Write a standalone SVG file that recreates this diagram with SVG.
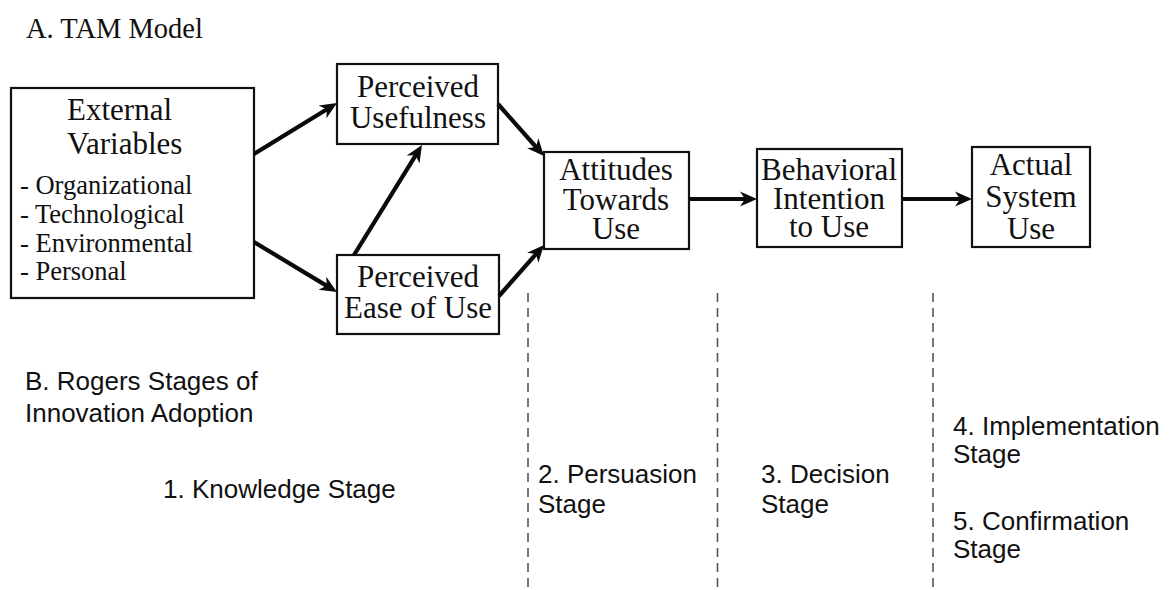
<svg xmlns="http://www.w3.org/2000/svg" width="1171" height="590" viewBox="0 0 1171 590">
  <style>
    .box { fill: #ffffff; stroke: #111111; stroke-width: 2.2; }
    .serif { font-family: "Liberation Serif", "Times New Roman", serif; fill: #111111; }
    .head { font-size: 31px; text-anchor: middle; }
    .item { font-size: 26.5px; }
    .sans { font-family: "Liberation Sans", Arial, sans-serif; font-size: 26px; fill: #111111; }
    .edge { stroke: #0a0a0a; stroke-width: 4.2; fill: none; marker-end: url(#head); }
    .divider { stroke: #555555; stroke-width: 1.6; stroke-dasharray: 9 6; }
  </style>
  <defs>
    <marker id="head" markerUnits="userSpaceOnUse" viewBox="-18 -8 18 16" markerWidth="18" markerHeight="16" refX="-8" refY="0" orient="auto">
      <path d="M0,0 L-17,-7.5 L-12,0 L-17,7.5 Z" fill="#0a0a0a"/>
    </marker>
  </defs>
  <rect width="1171" height="590" fill="#ffffff"/>

  <!-- Section titles -->
  <text class="serif" x="26" y="38" font-size="28.5">A. TAM Model</text>
  <text class="sans" x="25" y="390">B. Rogers Stages of</text>
  <text class="sans" x="25" y="422">Innovation Adoption</text>

  <!-- TAM nodes -->
  <g id="external-variables">
    <rect class="box" x="11" y="88" width="243" height="210"/>
    <text class="serif" x="67" y="120" font-size="31">External</text>
    <text class="serif" x="67" y="154" font-size="31">Variables</text>
    <text class="serif item" x="20" y="194">- Organizational</text>
    <text class="serif item" x="20" y="223">- Technological</text>
    <text class="serif item" x="20" y="252">- Environmental</text>
    <text class="serif item" x="20" y="280">- Personal</text>
  </g>
  <g id="perceived-usefulness">
    <rect class="box" x="337" y="64" width="161" height="80"/>
    <text class="serif head" x="418" y="97">Perceived</text>
    <text class="serif head" x="418" y="128">Usefulness</text>
  </g>
  <g id="perceived-ease-of-use">
    <rect class="box" x="337" y="255" width="162" height="79"/>
    <text class="serif head" x="418" y="287">Perceived</text>
    <text class="serif head" x="418" y="318">Ease of Use</text>
  </g>
  <g id="attitudes-towards-use">
    <rect class="box" x="544" y="152" width="145" height="97"/>
    <text class="serif head" x="616" y="180">Attitudes</text>
    <text class="serif head" x="616" y="210">Towards</text>
    <text class="serif head" x="616" y="239">Use</text>
  </g>
  <g id="behavioral-intention">
    <rect class="box" x="757" y="149" width="145" height="98"/>
    <text class="serif head" x="829" y="180">Behavioral</text>
    <text class="serif head" x="829" y="209">Intention</text>
    <text class="serif head" x="829" y="237">to Use</text>
  </g>
  <g id="actual-system-use">
    <rect class="box" x="972" y="147" width="118" height="100"/>
    <text class="serif head" x="1031" y="175">Actual</text>
    <text class="serif head" x="1031" y="207">System</text>
    <text class="serif head" x="1031" y="239">Use</text>
  </g>

  <!-- Connectors -->
  <g id="connectors">
    <line class="edge" x1="254" y1="154" x2="330.2" y2="107.2"/>
    <line class="edge" x1="254" y1="242" x2="330.1" y2="287.9"/>
    <line class="edge" x1="354" y1="255" x2="417.8" y2="151.8"/>
    <line class="edge" x1="498" y1="104" x2="538.7" y2="150"/>
    <line class="edge" x1="499" y1="296" x2="538.7" y2="251"/>
    <line class="edge" x1="689" y1="199" x2="749" y2="199"/>
    <line class="edge" x1="902" y1="199" x2="964" y2="199"/>
  </g>

  <!-- Stage dividers -->
  <g id="stage-dividers">
    <line class="divider" x1="528" y1="293" x2="528" y2="590"/>
    <line class="divider" x1="717.5" y1="293" x2="717.5" y2="590"/>
    <line class="divider" x1="933" y1="293" x2="933" y2="590"/>
  </g>

  <!-- Rogers stages -->
  <g id="stage-knowledge">
    <text class="sans" x="163" y="498">1. Knowledge Stage</text>
  </g>
  <g id="stage-persuasion">
    <text class="sans" x="538" y="483">2. Persuasion</text>
    <text class="sans" x="538" y="513">Stage</text>
  </g>
  <g id="stage-decision">
    <text class="sans" x="761" y="483">3. Decision</text>
    <text class="sans" x="761" y="513">Stage</text>
  </g>
  <g id="stage-implementation">
    <text class="sans" x="953" y="435">4. Implementation</text>
    <text class="sans" x="953" y="463">Stage</text>
  </g>
  <g id="stage-confirmation">
    <text class="sans" x="953" y="530">5. Confirmation</text>
    <text class="sans" x="953" y="558">Stage</text>
  </g>
</svg>
